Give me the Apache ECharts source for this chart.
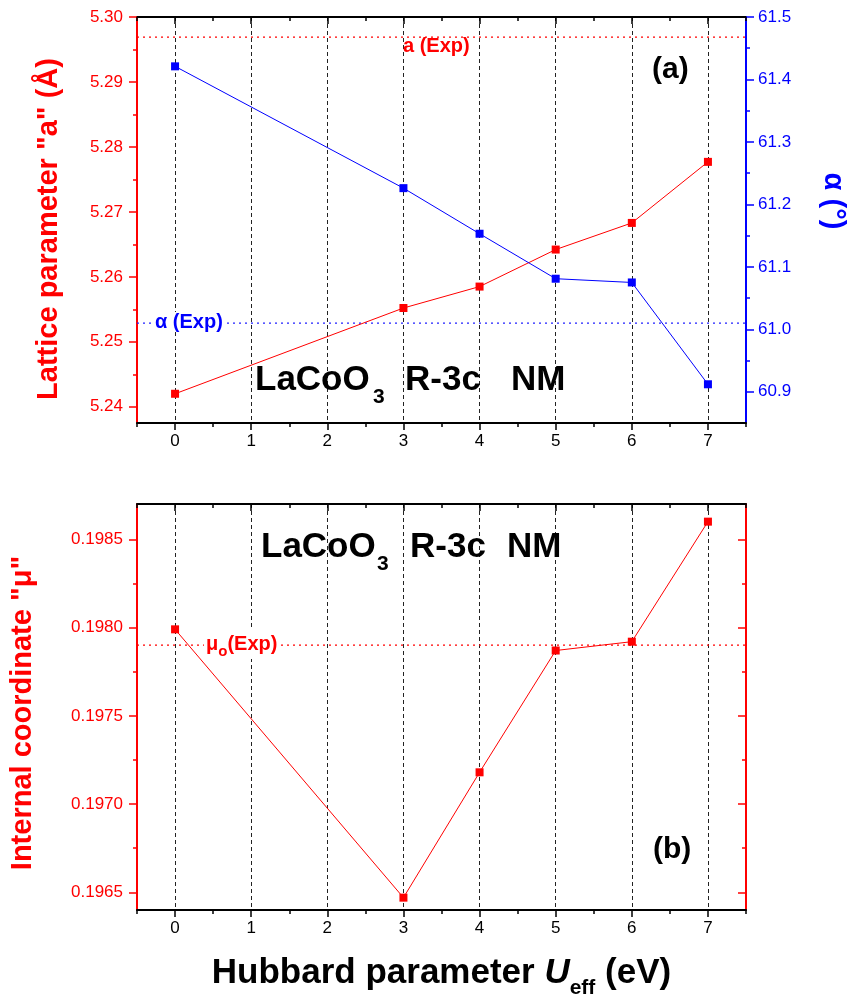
<!DOCTYPE html>
<html>
<head>
<meta charset="utf-8">
<script src="https://cdn.jsdelivr.net/npm/echarts@6.0.0/dist/echarts.min.js"></script>
<style>
html, body { margin: 0; padding: 0; background: #fff; }
#chart { width: 856px; height: 1001px; }
</style>
</head>
<body>
<div id="chart"></div>
<script>
var FONT = '"Liberation Sans", Arial, sans-serif';
var RED = '#ff0000';
var BLUE = '#0000ff';

// data
var uEff = [0, 3, 4, 5, 6, 7];
var latticeA = [5.2420, 5.2552, 5.2585, 5.2642, 5.2683, 5.2777];
var alphaDeg = [61.421, 61.226, 61.153, 61.081, 61.075, 60.912];
var muCoord = [0.19799, 0.19647, 0.19718, 0.19787, 0.19792, 0.19860];
var aExp = 5.2969;
var alphaExp = 61.01;
var muExp = 0.19790;

// axis ranges and ticks
var xRange = [-0.5, 7.5];
var xMajor = [0, 1, 2, 3, 4, 5, 6, 7];
var xMinor = [-0.5, 0.5, 1.5, 2.5, 3.5, 4.5, 5.5, 6.5, 7.5];
var aMajor = [5.24, 5.25, 5.26, 5.27, 5.28, 5.29, 5.30];
var aMinor = [5.245, 5.255, 5.265, 5.275, 5.285, 5.295];
var alphaMajor = [60.9, 61.0, 61.1, 61.2, 61.3, 61.4, 61.5];
var alphaMinor = [60.95, 61.05, 61.15, 61.25, 61.35, 61.45];
var muMajor = [0.1965, 0.1970, 0.1975, 0.1980, 0.1985];
var muMinor = [0.19675, 0.19725, 0.19775, 0.19825];

function pairs(xs, ys) {
    return xs.map(function (x, i) { return [x, ys[i]]; });
}

function mainX(g) {
    return {
        type: 'value', gridIndex: g, position: 'bottom', min: xRange[0], max: xRange[1],
        axisLine: { onZero: false, lineStyle: { color: '#000', width: 2 } },
        axisTick: { customValues: xMajor, length: 7, lineStyle: { color: '#000', width: 1.5 } },
        axisLabel: { customValues: xMajor, color: '#000', fontSize: 17, fontFamily: FONT, margin: 10 },
        splitLine: { show: true, lineStyle: { color: '#222', type: [4, 3], width: 1 } }
    };
}

function tickX(g, pos, ticks, len, inside, showLine) {
    return {
        type: 'value', gridIndex: g, position: pos, min: xRange[0], max: xRange[1],
        axisLine: { show: showLine, onZero: false, lineStyle: { color: '#000', width: 2 } },
        axisTick: { inside: inside, customValues: ticks, length: len, lineStyle: { color: '#000', width: 1.5 } },
        axisLabel: { show: false },
        splitLine: { show: false }
    };
}

function tickY(g, pos, min, max, ticks, len, inside, color, showLine) {
    return {
        type: 'value', gridIndex: g, position: pos, min: min, max: max,
        axisLine: { show: showLine, onZero: false, lineStyle: { color: color, width: 2 } },
        axisTick: { inside: inside, customValues: ticks, length: len, lineStyle: { color: color, width: 1.5 } },
        axisLabel: { show: false },
        splitLine: { show: false }
    };
}

function labelY(g, pos, min, max, ticks, color, digits, margin) {
    var ax = tickY(g, pos, min, max, ticks, 8, false, color, true);
    ax.axisLabel = {
        customValues: ticks, color: color, fontSize: 17, fontFamily: FONT, margin: margin,
        formatter: function (v) { return v.toFixed(digits); }
    };
    ax.nameLocation = 'middle';
    ax.nameTextStyle = { color: color, fontSize: 29, fontWeight: 'bold', fontFamily: FONT };
    return ax;
}

var yA = labelY(0, 'left', 5.2375, 5.30, aMajor, RED, 2, 14);
yA.name = 'Lattice parameter "a" (Å)';
yA.nameGap = 74;
yA.nameRotate = 90;
yA.nameTextStyle.padding = [0, 18, 0, 0];

var yAlpha = labelY(0, 'right', 60.85, 61.5, alphaMajor, BLUE, 1, 12);
yAlpha.name = 'α (°)';
yAlpha.nameGap = 72;
yAlpha.nameRotate = -90;
yAlpha.nameTextStyle.padding = [0, 38, 0, 0];

var yMu = labelY(1, 'left', 0.1964, 0.1987, muMajor, RED, 4, 14);
yMu.name = 'Internal coordinate "μ"';
yMu.nameGap = 100;
yMu.nameRotate = 90;
yMu.nameTextStyle.padding = [0, 12, 0, 0];

var xBottom = mainX(1);
xBottom.name = '{b|Hubbard parameter }{i|U}{s|eff}{b| (eV)}';
xBottom.nameLocation = 'middle';
xBottom.nameGap = 37;
xBottom.nameTextStyle = {
    rich: {
        b: { fontSize: 35, fontWeight: 'bold', color: '#000', fontFamily: FONT, lineHeight: 52 },
        i: { fontSize: 35, fontWeight: 'bold', fontStyle: 'italic', color: '#000', fontFamily: FONT, lineHeight: 52 },
        s: { fontSize: 21, fontWeight: 'bold', color: '#000', fontFamily: FONT, lineHeight: 20, verticalAlign: 'bottom' }
    }
};

function dataSeries(name, xi, yi, ys, color) {
    return {
        name: name, type: 'line', xAxisIndex: xi, yAxisIndex: yi,
        data: pairs(uEff, ys),
        symbol: 'rect', symbolSize: 8,
        itemStyle: { color: color }, lineStyle: { color: color, width: 1 },
        emphasis: { disabled: true }, z: 5
    };
}

// experimental reference value drawn across the whole x range
function expSeries(name, xi, yi, value, color) {
    return {
        name: name, type: 'line', xAxisIndex: xi, yAxisIndex: yi,
        data: [[xRange[0], value], [xRange[1], value]],
        symbol: 'none', silent: true,
        lineStyle: { color: color, type: [2, 4], width: 1.3 },
        emphasis: { disabled: true }, z: 4
    };
}

var BIG = 'bold 35px ' + FONT;
var SUB = 'bold 21px ' + FONT;

var chart = echarts.init(document.getElementById('chart'));

var option = {
    animation: false,
    backgroundColor: '#fff',
    grid: [
        { left: 137, right: 110, top: 17, height: 406 },
        { left: 137, right: 110, top: 504, height: 406 }
    ],
    xAxis: [
        mainX(0),
        tickX(0, 'bottom', xMinor, 4, false, false),
        tickX(0, 'top', xMajor, 7, true, true),
        tickX(0, 'top', xMinor, 4, true, false),
        xBottom,
        tickX(1, 'bottom', xMinor, 4, false, false),
        tickX(1, 'top', xMajor, 7, true, true),
        tickX(1, 'top', xMinor, 4, true, false)
    ],
    yAxis: [
        yA,
        yAlpha,
        tickY(0, 'left', 5.2375, 5.30, aMinor, 4, false, RED, false),
        tickY(0, 'right', 60.85, 61.5, alphaMinor, 4, false, BLUE, false),
        yMu,
        tickY(1, 'right', 0.1964, 0.1987, muMajor, 8, true, RED, true),
        tickY(1, 'left', 0.1964, 0.1987, muMinor, 4, false, RED, false),
        tickY(1, 'right', 0.1964, 0.1987, muMinor, 4, true, RED, false)
    ],
    series: [
        expSeries('a (Exp)', 0, 0, aExp, RED),
        expSeries('α (Exp)', 0, 1, alphaExp, '#2020ff'),
        expSeries('μo (Exp)', 4, 4, muExp, RED),
        dataSeries('a', 0, 0, latticeA, RED),
        dataSeries('α', 0, 1, alphaDeg, BLUE),
        dataSeries('μ', 4, 4, muCoord, RED)
    ],
    graphic: [
        { type: 'text', x: 403, y: 46, z: 10, style: { text: 'a (Exp)', font: 'bold 20px ' + FONT, fill: RED, verticalAlign: 'middle' } },
        { type: 'text', x: 153, y: 322, z: 10, style: { text: 'α (Exp)', font: 'bold 20px ' + FONT, fill: BLUE, verticalAlign: 'middle', backgroundColor: '#fff', padding: [0, 2] } },
        { type: 'text', x: 204, y: 644, z: 10, style: {
            text: '{m|μ}{s|o}{m|(Exp)}', backgroundColor: '#fff', padding: [0, 2], verticalAlign: 'middle',
            rich: {
                m: { font: 'bold 20px ' + FONT, fill: RED, lineHeight: 30 },
                s: { font: 'bold 15px ' + FONT, fill: RED, lineHeight: 15, verticalAlign: 'bottom' }
            }
        } },
        { type: 'text', x: 652, y: 70, z: 10, style: { text: '(a)', font: 'bold 30px ' + FONT, fill: '#000', verticalAlign: 'middle' } },
        { type: 'text', x: 653, y: 850, z: 10, style: { text: '(b)', font: 'bold 30px ' + FONT, fill: '#000', verticalAlign: 'middle' } },
        { type: 'text', x: 255, y: 380, z: 10, style: { text: 'LaCoO', font: BIG, fill: '#000', verticalAlign: 'middle' } },
        { type: 'text', x: 373, y: 397, z: 10, style: { text: '3', font: SUB, fill: '#000', verticalAlign: 'middle' } },
        { type: 'text', x: 405, y: 380, z: 10, style: { text: 'R-3c', font: BIG, fill: '#000', verticalAlign: 'middle' } },
        { type: 'text', x: 511, y: 380, z: 10, style: { text: 'NM', font: BIG, fill: '#000', verticalAlign: 'middle' } },
        { type: 'text', x: 261, y: 547, z: 10, style: { text: 'LaCoO', font: BIG, fill: '#000', verticalAlign: 'middle' } },
        { type: 'text', x: 377, y: 564, z: 10, style: { text: '3', font: SUB, fill: '#000', verticalAlign: 'middle' } },
        { type: 'text', x: 410, y: 547, z: 10, style: { text: 'R-3c', font: BIG, fill: '#000', verticalAlign: 'middle' } },
        { type: 'text', x: 507, y: 547, z: 10, style: { text: 'NM', font: BIG, fill: '#000', verticalAlign: 'middle' } }
    ]
};

chart.setOption(option);
</script>
</body>
</html>
